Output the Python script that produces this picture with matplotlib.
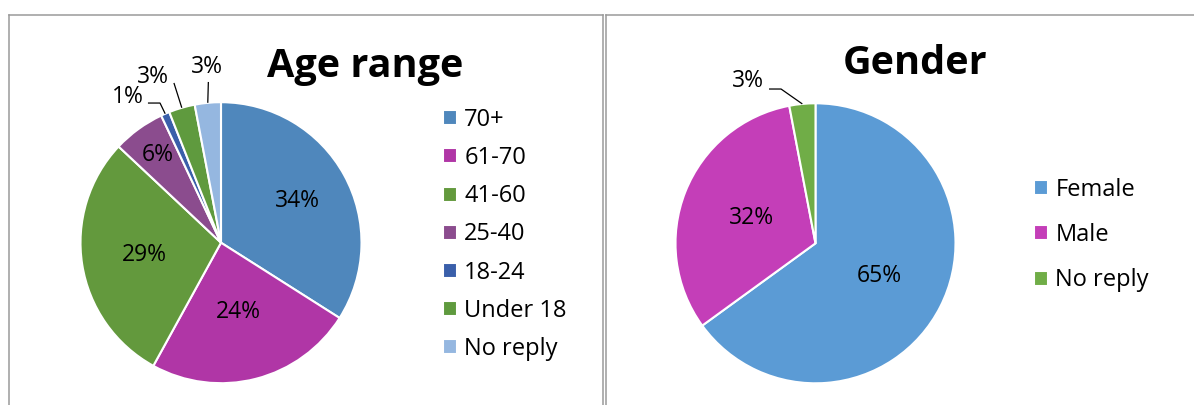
import numpy as np
import matplotlib
matplotlib.use("Agg")
import matplotlib.pyplot as plt
from matplotlib.lines import Line2D

# data
age_labels = ["70+", "61-70", "41-60", "25-40", "18-24", "Under 18", "No reply"]
age_values = [34, 24, 29, 6, 1, 3, 3]
age_colors = ["#4F87BC", "#B036A6", "#63993D", "#8B4C8E", "#3A5FAA", "#5F9A3E", "#95B7E0"]

gender_labels = ["Female", "Male", "No reply"]
gender_values = [65, 32, 3]
gender_colors = ["#5B9BD5", "#C43EB8", "#70AD47"]

plt.rcParams['font.family'] = ['Open Sans', 'DejaVu Sans']

W, H = 1194, 405
fig = plt.figure(figsize=(W / 100, H / 100), dpi=100)
fig.patch.set_facecolor("white")


def fx(x):
    return x / W


def fy(y):
    return 1 - y / H


# panel frames
border = "#9a9a9a"
for xs, ys in [([9, 9], [15, 405]), ([9, 603], [15, 15]), ([603, 603], [15, 405]),
               ([606, 606], [15, 405]), ([606, 1194], [15, 15])]:
    fig.add_artist(Line2D([fx(v) for v in xs], [fy(v) for v in ys], color=border, lw=1.1))

LIM = 1.3


def pie_axes(cx, cy, r):
    half = LIM * r
    ax = fig.add_axes([fx(cx - half), fy(cy + half), 2 * half / W, 2 * half / H])
    return ax


def draw_pie(ax, values, colors, inside_r, outside):
    wedges, _ = ax.pie(values, colors=colors, startangle=90, counterclock=False,
                       wedgeprops=dict(edgecolor="white", linewidth=1.5))
    ax.set_xlim(-LIM, LIM)
    ax.set_ylim(-LIM, LIM)
    ax.set_aspect("auto")
    ax.axis("off")
    for i, (w, v) in enumerate(zip(wedges, values)):
        mid = np.radians((w.theta1 + w.theta2) / 2)
        if i in outside:
            (tx, ty), pts = outside[i]
            ax.text(tx, ty, f"{v}%", ha="center", va="center", fontsize=16.5)
            xs = [p[0] for p in pts] + [np.cos(mid)]
            ys = [p[1] for p in pts] + [np.sin(mid)]
            ax.plot(xs, ys, color="black", lw=0.9, solid_capstyle="butt")
        else:
            rr = inside_r[i]
            ax.text(rr * np.cos(mid), rr * np.sin(mid), f"{v}%", ha="center", va="center",
                    fontsize=16.5)
    return wedges


# Age range
ax1 = pie_axes(221, 242.7, 140.5)
age_outside = {
    4: ((-0.66, 1.037), [(-0.52, 0.994), (-0.434, 0.994)]),
    5: ((-0.484, 1.18), [(-0.335, 1.137)]),
    6: ((-0.10, 1.25), [(-0.09, 1.144)]),
}
w1 = draw_pie(ax1, age_values, age_colors, [0.62, 0.51, 0.55, 0.77], age_outside)
fig.text(fx(365.5), fy(77), "Age range", ha="center", va="baseline",
         fontsize=28.5, fontweight="bold")
leg1 = fig.legend(w1, age_labels, loc="upper left", bbox_to_anchor=(fx(443), fy(108)),
                  frameon=False, fontsize=17, handlelength=0.6, handleheight=0.6,
                  handletextpad=0.3, labelspacing=0.6, borderaxespad=0, borderpad=0)

# Gender
ax2 = pie_axes(815.5, 243.3, 140)
gender_outside = {
    2: ((-0.482, 1.159), [(-0.332, 1.102), (-0.246, 1.102)]),
}
w2 = draw_pie(ax2, gender_values, gender_colors, [0.51, 0.49], gender_outside)
fig.text(fx(915.5), fy(74), "Gender", ha="center", va="baseline",
         fontsize=28.5, fontweight="bold")
leg2 = fig.legend(w2, gender_labels, loc="upper left", bbox_to_anchor=(fx(1034), fy(178)),
                  frameon=False, fontsize=17, handlelength=0.6, handleheight=0.6,
                  handletextpad=0.3, labelspacing=0.9, borderaxespad=0, borderpad=0)

fig.savefig("out.png", dpi=100)
